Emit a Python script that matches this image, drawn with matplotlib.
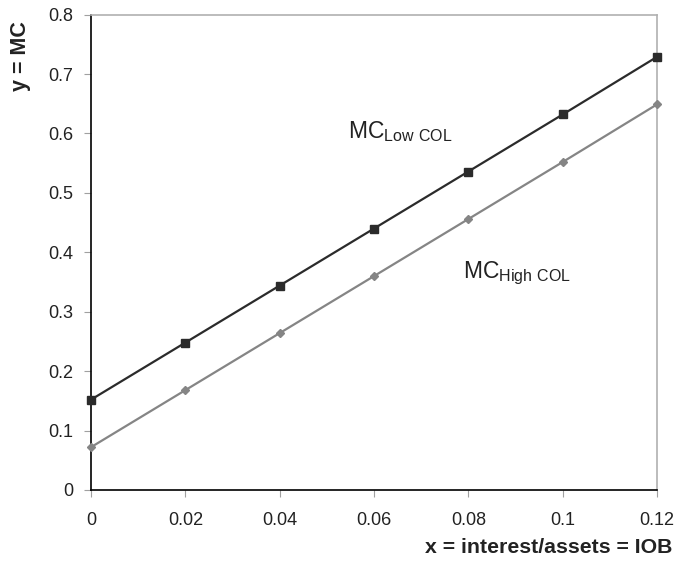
import matplotlib
matplotlib.use('Agg')
import matplotlib.pyplot as plt

plt.rcParams['font.family'] = ['Liberation Sans', 'DejaVu Sans']
plt.rcParams['mathtext.fontset'] = 'custom'
plt.rcParams['mathtext.rm'] = 'Liberation Sans'

# data
x = [0, 0.02, 0.04, 0.06, 0.08, 0.1, 0.12]
mc_low = [0.152, 0.248, 0.344, 0.440, 0.536, 0.632, 0.729]
mc_high = [0.072, 0.168, 0.264, 0.360, 0.456, 0.552, 0.649]
xticks = [0, 0.02, 0.04, 0.06, 0.08, 0.1, 0.12]
xtick_labels = ['0', '0.02', '0.04', '0.06', '0.08', '0.1', '0.12']
yticks = [0, 0.1, 0.2, 0.3, 0.4, 0.5, 0.6, 0.7, 0.8]
ytick_labels = ['0', '0.1', '0.2', '0.3', '0.4', '0.5', '0.6', '0.7', '0.8']

fig = plt.figure(figsize=(6.76, 5.63), dpi=100)
ax = fig.add_axes([0.1346, 0.1297, 0.972 - 0.1346, 0.974 - 0.1297])

ax.plot(x, mc_low, color='#2b2b2b', lw=1.6, marker='s', ms=6, clip_on=False, zorder=3)
ax.plot(x, mc_high, color='#858585', lw=1.6, marker='D', ms=4.5, clip_on=False, zorder=3)

ax.set_xlim(0, 0.12)
ax.set_ylim(0, 0.8)
ax.set_xticks(xticks)
ax.set_xticklabels(xtick_labels)
ax.set_yticks(yticks)
ax.set_yticklabels(ytick_labels)
ax.tick_params(axis='both', direction='out', length=5, color='#a0a0a0', labelsize=13, labelcolor='#222222')
ax.tick_params(axis='y', pad=8)
ax.tick_params(axis='x', pad=11)

ax.spines['left'].set_color('black')
ax.spines['bottom'].set_color('black')
ax.spines['top'].set_color('#b0b0b0')
ax.spines['right'].set_color('#b0b0b0')
for s in ax.spines.values():
    s.set_linewidth(1.2)

ax.text(0.0545, 0.592, r'MC$_{\mathrm{Low\ COL}}$', fontsize=16.5, color='#222222')
ax.text(0.0789, 0.356, r'MC$_{\mathrm{High\ COL}}$', fontsize=16.5, color='#222222')

fig.text(0.03, 0.962, 'y = MC', rotation=90, ha='center', va='top', fontsize=15.5, fontweight='bold', color='#222222')
fig.text(0.994, 0.027, 'x = interest/assets = IOB', ha='right', va='center', fontsize=15.3, fontweight='bold', color='#222222')

fig.savefig('out.png', dpi=100)
